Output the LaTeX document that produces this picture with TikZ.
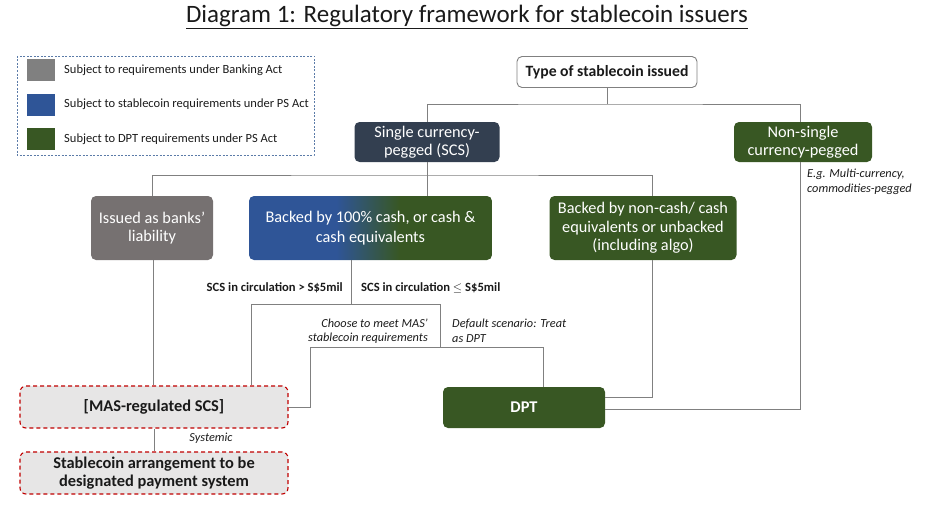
\documentclass[tikz,border=0pt]{standalone}
\usepackage{fontspec}
\setmainfont{Carlito}
\definecolor{lnc}{HTML}{808080}
\definecolor{bankgray}{HTML}{767171}
\definecolor{navy}{HTML}{333F50}
\definecolor{dgreen}{HTML}{385723}
\definecolor{sblue}{HTML}{2F5597}
\definecolor{masfill}{HTML}{E7E6E6}
\definecolor{masred}{HTML}{C00000}
\definecolor{legbd}{HTML}{5B7BA8}
\definecolor{txt}{HTML}{1A1A1A}
\pgfdeclarehorizontalshading{scsgrad}{100bp}{color(0bp)=(sblue); color(43bp)=(sblue); color(56bp)=(dgreen); color(100bp)=(dgreen)}
\begin{document}
\begin{tikzpicture}[x=1pt,y=-1pt,
  conn/.style={draw=lnc, line width=0.9pt},
  boxbase/.style={rounded corners=5pt, inner sep=0pt, align=center, font=\fontsize{16.3}{18.5}\selectfont, text=white},
  filled/.style={boxbase, fill=#1},
  dashbox/.style={rounded corners=6pt, inner sep=0pt, align=center, fill=masfill, draw=masred, line width=1.1pt, dash pattern=on 4pt off 3pt, font=\fontsize{16.4}{18.5}\selectfont\bfseries, text=txt, minimum width=268, minimum height=42},
  lab/.style={inner sep=0pt, font=\fontsize{12.6}{14.5}\selectfont\bfseries, text=txt},
  itl/.style={inner sep=0pt, font=\fontsize{12.3}{14.5}\selectfont\itshape, text=txt},
  legsq/.style={inner sep=0pt, minimum width=28, minimum height=22, fill=#1},
  legtx/.style={inner sep=0pt, anchor=west, font=\fontsize{12.5}{14}\selectfont, text=txt}
]
\useasboundingbox (0,0) rectangle (950,527);
% title
\node[inner sep=0pt, font=\fontsize{25}{28}\selectfont, text=txt] (title) at (467,17) {\underline{Diagram 1: Regulatory framework for stablecoin issuers}};
% legend
\draw[legbd, line width=0.8pt, dash pattern=on 2pt off 1.5pt] (17,56) rectangle (314,155);
\node[legsq=lnc] (lg1) at (41,70) {};
\node[legsq=sblue] (lg2) at (41,104.5) {};
\node[legsq=dgreen] (lg3) at (41,139) {};
\node[legtx] (lt1) at (64,70) {Subject to requirements under Banking Act};
\node[legtx] (lt2) at (64,104.5) {Subject to stablecoin requirements under PS Act};
\node[legtx] (lt3) at (64,139) {Subject to DPT requirements under PS Act};
% nodes
\node[rounded corners=5pt, draw=lnc, line width=0.9pt, fill=white, inner sep=0pt, minimum width=180, minimum height=31, font=\fontsize{15.7}{18}\selectfont\bfseries, text=txt] (type) at (607,72) {Type of stablecoin issued};
\node[filled=navy, minimum width=145, minimum height=40] (scs) at (427,142) {Single currency-\\pegged (SCS)};
\node[filled=dgreen, minimum width=138, minimum height=40] (nons) at (803,142) {Non-single\\currency-pegged};
\node[itl, anchor=north west, align=left] (eg) at (807,169) {E.g. Multi-currency,\\commodities-pegged};
\node[filled=bankgray, minimum width=122, minimum height=64] (bank) at (152,228) {Issued as banks'\\liability};
\node[boxbase, shading=scsgrad, minimum width=243, minimum height=64, font=\fontsize{16.3}{19.5}\selectfont] (cash) at (370.5,228) {Backed by 100\% cash, or cash \&\\cash equivalents};
\node[filled=dgreen, minimum width=187, minimum height=64] (noncash) at (643,228) {Backed by non-cash/ cash\\equivalents or unbacked\\(including algo)};
\node[lab, anchor=east] (gt) at (343,288) {SCS in circulation > S\$5mil};
\node[lab, anchor=west] (le) at (361,288) {SCS in circulation $\leq$ S\$5mil};
\node[itl, anchor=east, align=right] (choose) at (428,331) {Choose to meet MAS'\\stablecoin requirements};
\node[itl, anchor=west, align=left] (deflt) at (452,331) {Default scenario: Treat\\as DPT};
\node[dashbox] (mas) at (154,407) {[MAS-regulated SCS]};
\node[filled=dgreen, minimum width=162, minimum height=41, font=\fontsize{16.4}{18.5}\selectfont\bfseries] (dpt) at (524,407.5) {DPT};
\node[itl] (sys) at (211,438) {Systemic};
\node[dashbox] (desig) at (154,473) {Stablecoin arrangement to be\\designated payment system};
% connectors
\coordinate (j1) at (607,104);
\coordinate (j2) at (427,175);
\draw[conn] (type.south) -- (j1);
\draw[conn] (scs.north) |- (j1) -| ([xshift=-3pt]nons.north);
\draw[conn] (scs.south) -- (scs.south |- cash.north);
\draw[conn] (bank.north) |- (j2) -| ([xshift=9pt]noncash.north);
\coordinate (c0) at (251,304);
\coordinate (c1) at (351,304);
\coordinate (c2) at (440,304);
\coordinate (c3) at (440,347);
\coordinate (c4) at (310,347);
\coordinate (c5) at (543,347);
\draw[conn] (cash.south -| c1) -- (c1);
\draw[conn] (c0 |- mas.north) -- (c0) -- (c2) -- (c3);
\draw[conn] (c4) -- (c5) -- (c5 |- dpt.north);
\draw[conn] (c4) |- (mas.east);
\draw[conn] ([xshift=1pt]bank.south) -- ([xshift=1pt]bank.south |- mas.north);
\draw[conn] ([xshift=9pt]noncash.south) |- ([yshift=10.5pt]dpt.east);
\draw[conn] ([xshift=-3pt]nons.south) |- ([yshift=-1.5pt]dpt.east);
\draw[conn] (mas.south) -- (desig.north);
\end{tikzpicture}
\end{document}
